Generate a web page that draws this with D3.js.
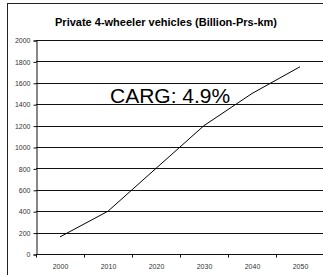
<!DOCTYPE html>
<html>
<head>
<meta charset="utf-8">
<script src="https://cdn.jsdelivr.net/npm/d3@7"></script>
<style>
  body { margin: 0; background: #fff; }
  svg { display: block; font-family: "Liberation Sans", Arial, sans-serif; }
</style>
</head>
<body>
<svg id="chart"></svg>
<script>
// Chart data
const years = ['2000', '2010', '2020', '2030', '2040', '2050'];
const pkm = [160, 400, 800, 1200, 1500, 1750];
const yTicks = [0, 200, 400, 600, 800, 1000, 1200, 1400, 1600, 1800, 2000];
const chartTitle = 'Private 4-wheeler vehicles (Billion-Prs-km)';
const note = 'CARG: 4.9%';

const width = 323;
const height = 275;
const margin = { top: 40, bottom: 21, left: 36 };

const svg = d3.select('#chart')
  .attr('width', width)
  .attr('height', height);

// Outer frame (left and top edges visible)
svg.append('rect').attr('x', 7).attr('y', 3).attr('width', 1).attr('height', height - 3).attr('fill', '#222');
svg.append('rect').attr('x', 7).attr('y', 3).attr('width', width - 7).attr('height', 1).attr('fill', '#222');

// Title
svg.append('text')
  .attr('x', 166)
  .attr('y', 26)
  .attr('text-anchor', 'middle')
  .style('font-size', '11px')
  .style('font-weight', 'bold')
  .style('fill', '#000')
  .text(chartTitle);

const plotW = width - margin.left;
const plotH = height - margin.top - margin.bottom;

const chart = svg.append('g')
  .attr('transform', `translate(${margin.left}, ${margin.top})`);

const xScale = d3.scaleBand()
  .domain(years)
  .range([0, 288]);

const yScale = d3.scaleLinear()
  .domain([0, 2000])
  .range([plotH, 0]);

// Gridlines (1px rects)
chart.append('g')
  .attr('class', 'grid')
  .selectAll('rect')
  .data(yTicks)
  .enter()
  .append('rect')
  .attr('x', 0)
  .attr('width', plotW)
  .attr('y', d => Math.round(yScale(d)))
  .attr('height', 1)
  .attr('fill', '#111');

// Y axis
const yAxis = chart.append('g')
  .attr('transform', 'translate(0.5, 0.5)')
  .call(d3.axisLeft(yScale).tickValues(yTicks).tickSize(3).tickPadding(3).tickFormat(d3.format('d')));
yAxis.selectAll('text')
  .style('font-size', '7px')
  .style('font-family', '"Liberation Sans", Arial, sans-serif')
  .style('fill', '#333');
yAxis.selectAll('.domain, .tick line').attr('stroke', '#111');

// X axis ticks between categories
const xAxisG = chart.append('g')
  .attr('transform', `translate(0.5, ${plotH + 0.5})`);
xAxisG.selectAll('.xtick')
  .data(years)
  .enter()
  .append('line')
  .attr('x1', d => xScale(d))
  .attr('x2', d => xScale(d))
  .attr('y1', 0)
  .attr('y2', 3)
  .attr('stroke', '#111');
xAxisG.selectAll('.xlabel')
  .data(years)
  .enter()
  .append('text')
  .attr('x', d => xScale(d) + xScale.bandwidth() / 2)
  .attr('y', 14)
  .attr('text-anchor', 'middle')
  .style('font-size', '7px')
  .style('fill', '#333')
  .text(d => d);

// Line
const line = d3.line()
  .x((d, i) => xScale(years[i]) + xScale.bandwidth() / 2)
  .y(d => yScale(d));

chart.append('path')
  .datum(pkm)
  .attr('d', line)
  .attr('fill', 'none')
  .attr('stroke', '#000')
  .attr('stroke-width', 1);

// Annotation
svg.append('text')
  .attr('x', 110)
  .attr('y', 103)
  .style('font-size', '21px')
  .style('fill', '#000')
  .text(note);
</script>
</body>
</html>
